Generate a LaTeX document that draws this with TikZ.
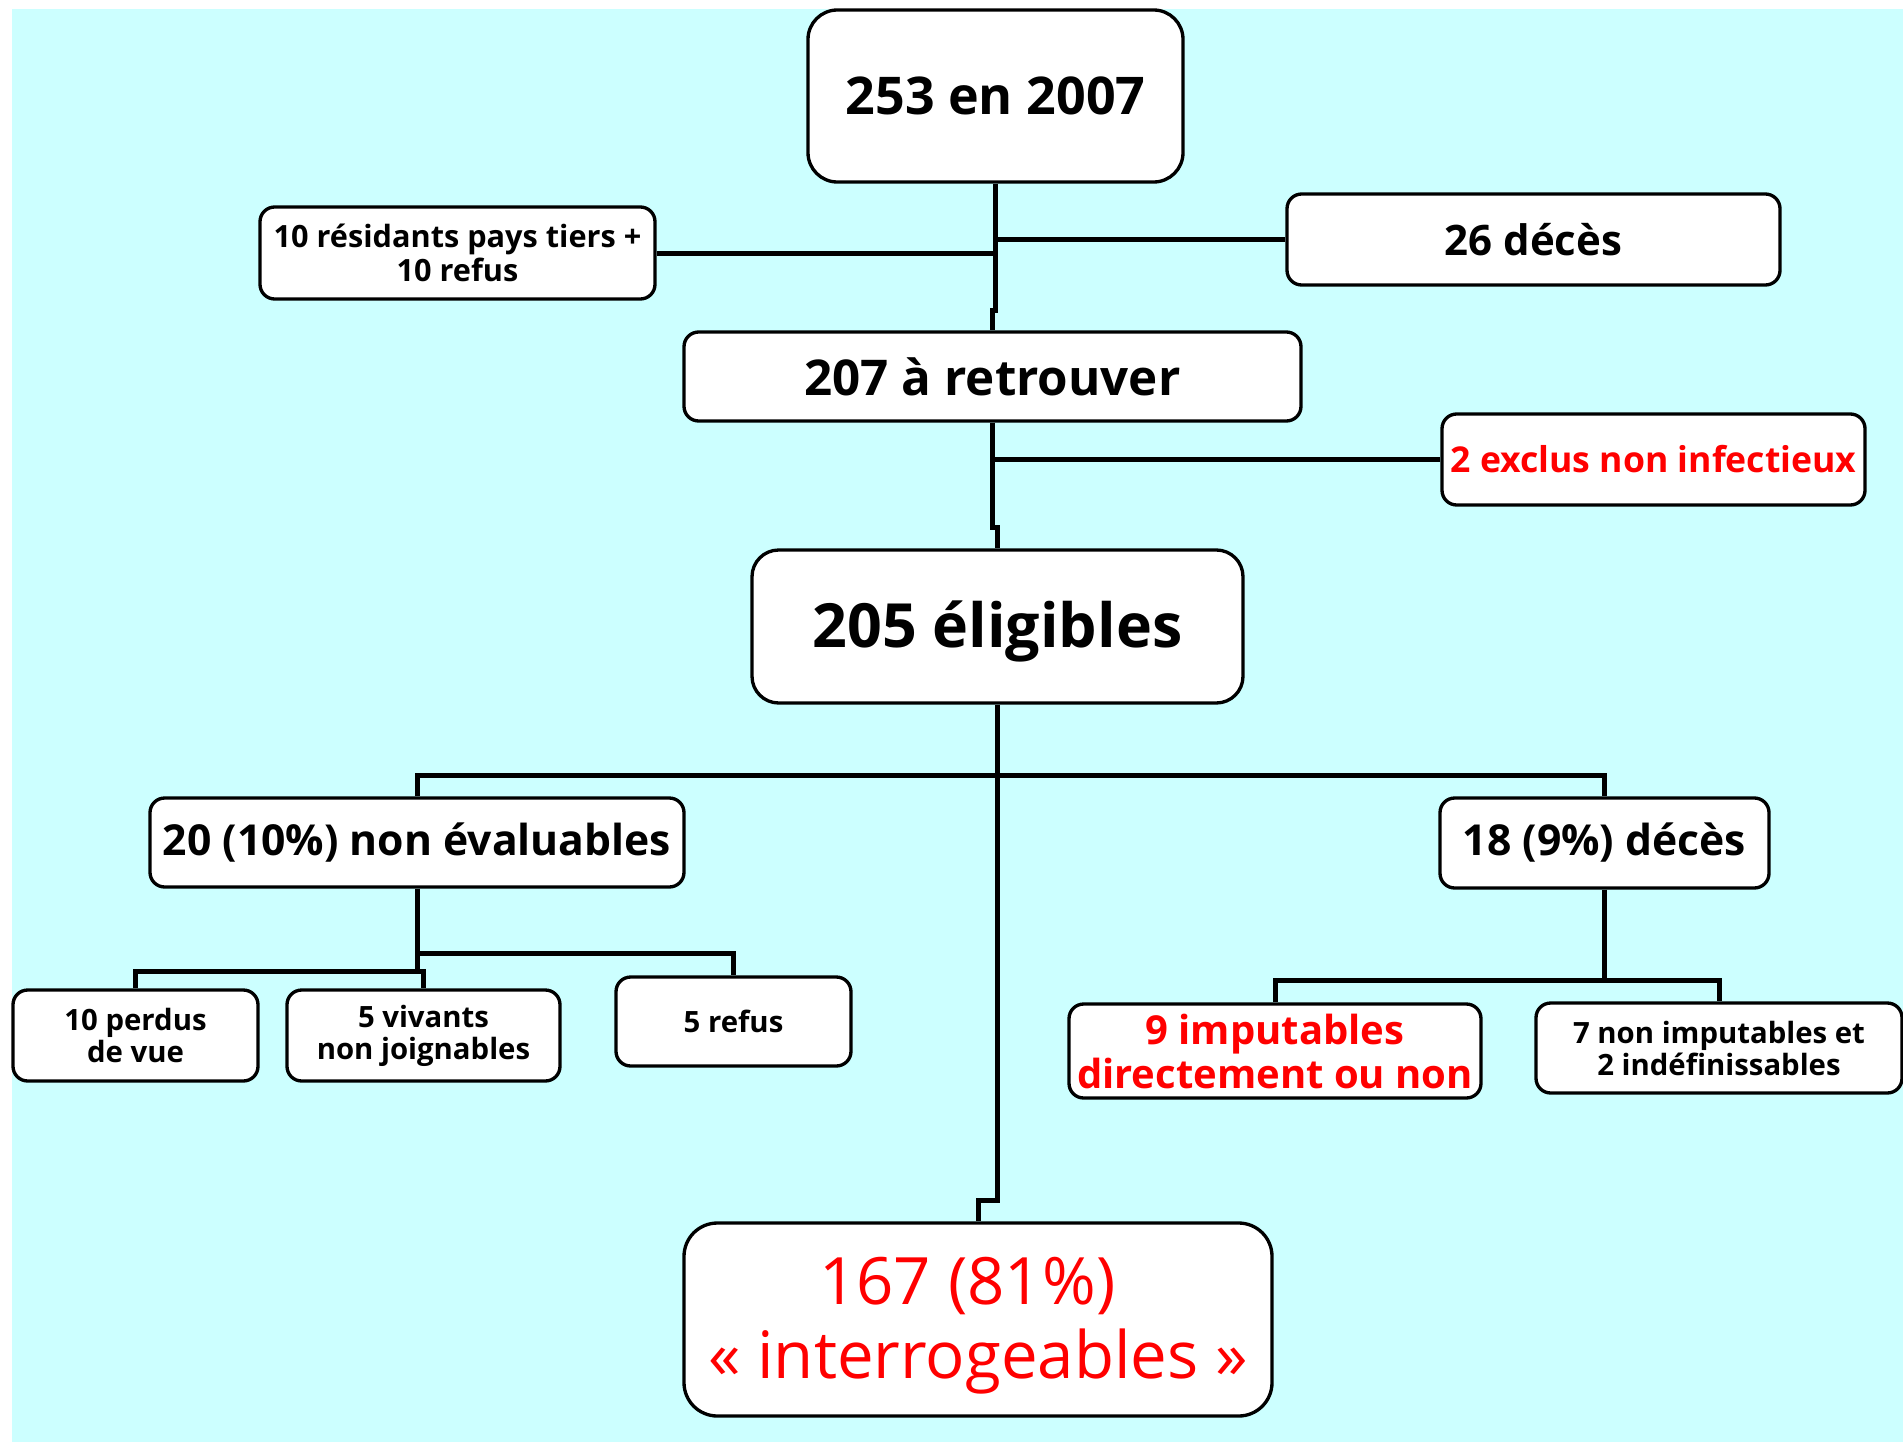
\documentclass[tikz,border=0pt]{standalone}
\usepackage{fontspec}
\setmainfont{Open Sans}
\definecolor{bgc}{HTML}{CCFFFF}
\definecolor{redt}{HTML}{FF0000}
\begin{document}
\begin{tikzpicture}[x=0.75pt,y=-0.75pt,
  box/.style={draw=black, line width=2.5pt, fill=white, rounded corners=11pt, align=center, inner sep=0pt},
  sz/.style 2 args={minimum width=#1*0.75pt, minimum height=#2*0.75pt},
  fs/.style 2 args={font=\fontsize{#1}{#2}\selectfont\bfseries},
  conn/.style={draw=black, line width=3.75pt, line join=miter}]
\useasboundingbox (0,0) rectangle (1903,1442);
\fill[bgc] (12,9) rectangle (1903,1442);

\node[box, sz={375}{172}, rounded corners=22pt, fs={39}{44}] (top) at (995.5,96) {253 en 2007};
\node[box, sz={395}{92}, fs={23}{25}] (res) at (457.5,253) {10 résidants pays tiers +\\10 refus};
\node[box, sz={493}{91}, fs={31.5}{34}] (dc) at (1533.5,239.5) {26 décès};
\node[box, sz={617}{89}, fs={37}{40}] (ret) at (992.5,376.5) {207 à retrouver};
\node[box, sz={423}{91}, fs={26.7}{30}, text=redt] (exc) at (1653.5,459.5) {2 exclus non infectieux};
\node[box, sz={491}{153}, rounded corners=20pt, fs={45.7}{50}] (eli) at (997.5,626.5) {\raisebox{-4pt}[\height][\depth]{205 éligibles}};
\node[box, sz={534}{89}, fs={32}{35}] (nev) at (417,842.5) {20 (10\%) non évaluables};
\node[box, sz={329}{90}, fs={32}{35}] (d18) at (1604.5,843) {18 (9\%) décès};
\node[box, sz={245}{91}, fs={22}{24}] (per) at (135.5,1035.5) {10 perdus\\de vue};
\node[box, sz={273}{91}, fs={22}{24}] (viv) at (423.5,1035.5) {5 vivants\\non joignables};
\node[box, sz={235}{89}, fs={22}{24}] (ref) at (733.5,1021.5) {5 refus};
\node[box, sz={412}{94}, fs={30}{33}, text=redt] (imp) at (1275,1051) {9 imputables\\directement ou non};
\node[box, sz={366}{90}, fs={22}{24}] (nim) at (1719,1048) {7 non imputables et\\2 indéfinissables};
\node[box, sz={588}{193}, rounded corners=25pt, font=\fontsize{49}{55}\selectfont, text=redt] (int) at (978,1319.5)
  {\raisebox{-5.5pt}[\height][\depth]{\begin{tabular}{@{}c@{}}167 (81\%)\kern16pt\\« interrogeables »\end{tabular}}};

% junction coordinates
\coordinate (j1) at (995.5,310);
\coordinate (j2) at (992.5,527);
\coordinate (bus) at (997.5,775);
\coordinate (j3) at (997.5,1200);
\coordinate (nb1) at (417,953);
\coordinate (nb2) at (417,971);
\coordinate (db) at (1604.5,980);

\draw[conn] (top.south) -- (j1) -| (ret.north);
\draw[conn] (res.east) -- (res.east -| top.south);
\draw[conn] (dc.west) -- (dc.west -| top.south);
\draw[conn] (ret.south) -- (j2) -| (eli.north);
\draw[conn] (exc.west) -- (exc.west -| ret.south);
\draw[conn] (eli.south) -- (j3) -| (int.north);
\draw[conn] (nev.north) |- (bus) -| (d18.north);
\draw[conn] (nev.south) -- (nb1) -| (ref.north);
\draw[conn] (nb1) -- (nb2);
\draw[conn] (per.north) |- (nb2) -| (viv.north);
\draw[conn] (d18.south) -- (db);
\draw[conn] (imp.north) |- (db) -| (nim.north);
\end{tikzpicture}
\end{document}
